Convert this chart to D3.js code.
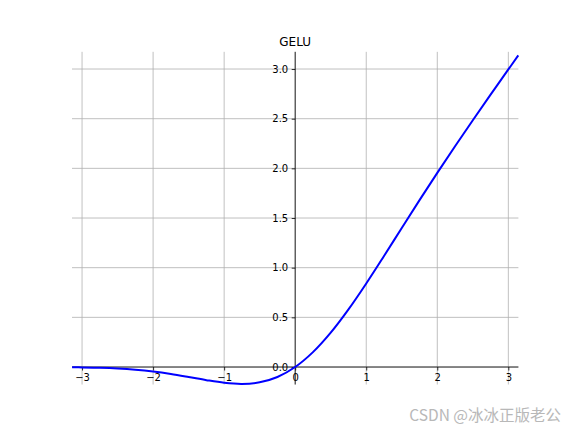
<!DOCTYPE html>
<html>
<head>
<meta charset="utf-8">
<script src="https://cdn.jsdelivr.net/npm/d3@7"></script>
<style>
  body { margin: 0; background: #fff; }
  svg { display: block; font-family: "DejaVu Sans", sans-serif; }
</style>
</head>
<body>
<svg id="chart" width="576" height="432"></svg>
<script>
// GELU curve, values
var xs = [-3.14, -3, -2.75, -2.5, -2.25, -2, -1.75, -1.5, -1.25, -1, -0.75, -0.5, -0.25,
          0, 0.25, 0.5, 0.75, 1, 1.25, 1.5, 1.75, 2, 2.25, 2.5, 2.75, 3, 3.14];
var ys = [-0.0026, -0.0040, -0.0082, -0.0155, -0.0275, -0.0455, -0.0701, -0.1002, -0.1321,
          -0.1587, -0.1700, -0.1543, -0.1003, 0, 0.1497, 0.3457, 0.5800, 0.8413, 1.1179,
          1.3998, 1.6799, 1.9545, 2.2225, 2.4845, 2.7418, 2.9960, 3.1374];
var xTicks = [-3, -2, -1, 0, 1, 2, 3];
var yTicks = [0, 0.5, 1.0, 1.5, 2.0, 2.5, 3.0];
var title = "GELU";
var watermark = "CSDN @冰冰正版老公";

var svg = d3.select("#chart");
var padL = 72, padR = 518.4, padT = 51.84, padB = 384.5;

var x = d3.scaleLinear().domain([-Math.PI, Math.PI]).range([padL, padR]);
var y = d3.scaleLinear().domain([-0.176, 3.173]).range([padB, padT]);

// grid
var grid = svg.append("g");
grid.selectAll("line.gx").data(xTicks).enter().append("line")
  .attr("x1", function(d) { return x(d); }).attr("x2", function(d) { return x(d); })
  .attr("y1", padT).attr("y2", padB)
  .attr("stroke", "#b0b0b0").attr("stroke-width", 0.8);
grid.selectAll("line.gy").data(yTicks).enter().append("line")
  .attr("y1", function(d) { return y(d); }).attr("y2", function(d) { return y(d); })
  .attr("x1", padL).attr("x2", padR)
  .attr("stroke", "#b0b0b0").attr("stroke-width", 0.8);

// spines through zero
svg.append("line").attr("x1", padL).attr("x2", padR).attr("y1", y(0)).attr("y2", y(0))
  .attr("stroke", "#000").attr("stroke-width", 0.8);
svg.append("line").attr("x1", x(0)).attr("x2", x(0)).attr("y1", padT).attr("y2", padB)
  .attr("stroke", "#000").attr("stroke-width", 0.8);

// axes
var xAxis = d3.axisBottom(x).tickValues(xTicks).tickSize(3.5).tickPadding(3.5)
  .tickFormat(function(d) { return d3.format("d")(d).replace("-", "\u2212"); });
var gx = svg.append("g").attr("transform", "translate(0," + y(0) + ")").call(xAxis);
var yAxis = d3.axisLeft(y).tickValues(yTicks).tickSize(3.5).tickPadding(3.5)
  .tickFormat(d3.format(".1f"));
var gy = svg.append("g").attr("transform", "translate(" + x(0) + ",0)").call(yAxis);
[gx, gy].forEach(function(g) {
  g.select(".domain").remove();
  g.selectAll(".tick line").attr("stroke", "#000").attr("stroke-width", 0.8);
  g.selectAll(".tick text").attr("fill", "#000")
    .style("font-family", "DejaVu Sans").style("font-size", "10px");
});

// curve
var pts = xs.map(function(d, i) { return [d, ys[i]]; });
var line = d3.line().x(function(d) { return x(d[0]); }).y(function(d) { return y(d[1]); })
  .curve(d3.curveCatmullRom.alpha(0.5));
svg.append("path").datum(pts).attr("d", line)
  .attr("fill", "none").attr("stroke", "#0000ff").attr("stroke-width", 2);

// title
svg.append("text").attr("x", (padL + padR) / 2).attr("y", padT - 6)
  .attr("text-anchor", "middle").style("font-size", "12px").text(title);

// watermark
svg.append("text").attr("x", 561).attr("y", 421).attr("text-anchor", "end")
  .style("font-family", "'Noto Sans CJK SC', sans-serif").style("font-size", "15.5px")
  .attr("fill", "#b8b8b8").text(watermark);
</script>
</body>
</html>
